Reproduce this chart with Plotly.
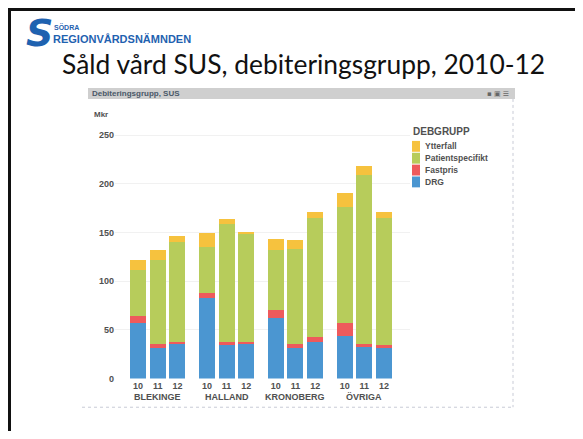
import plotly.graph_objects as go

# The page body has an 8px default margin, so the figure is sized to fit the window
SCREEN_W, SCREEN_H = 583, 439
OFF = 8
W, H = SCREEN_W - OFF, SCREEN_H - 2 * OFF

regions = ["BLEKINGE", "HALLAND", "KRONOBERG", "ÖVRIGA"]
years = ["10", "11", "12"]
series_names = ["DRG", "Fastpris", "Patientspecifikt", "Ytterfall"]
drg = [57, 31, 35, 83, 34, 35, 62, 31, 38, 44, 32, 32]
fastpris = [7, 4, 3, 5, 4, 3, 8, 5, 5, 13, 3, 2]
patientspecifikt = [48, 87, 102, 47, 121, 111, 62, 97, 122, 119, 174, 131]
ytterfall = [10, 10, 6, 15, 5, 1.5, 11, 9, 6, 15, 9, 6]
y_ticks = [0, 50, 100, 150, 200, 250]

colors = ["#4b96d1", "#ee5a5c", "#b7cc5b", "#f6c23e"]
GROUP_STEP = 3.5

xs, xlabels = [], []
for g, _ in enumerate(regions):
    for i, yr in enumerate(years):
        xs.append(g * GROUP_STEP + i)
        xlabels.append(yr)


def px(x):
    return (x - OFF) / W


def py(y):
    return 1 - (y - OFF) / H


fig = go.Figure()
for name, vals, col in zip(series_names, [drg, fastpris, patientspecifikt, ytterfall], colors):
    fig.add_trace(go.Bar(x=xs, y=vals, name=name, marker=dict(color=col, line=dict(width=0)),
                         width=0.81, showlegend=False))

FONT = "Liberation Sans"
GREY = "#505050"

fig.update_layout(
    width=W, height=H,
    margin=dict(l=0, r=0, t=0, b=0),
    paper_bgcolor="white", plot_bgcolor="white",
    barmode="stack",
    font=dict(family=FONT, size=9, color=GREY),
    xaxis=dict(domain=[px(115), px(410)], range=[-1.17, 13.82],
               tickmode="array", tickvals=xs, ticktext=["<b>%s</b>" % t for t in xlabels],
               showgrid=False, zeroline=False, showline=False, ticks="",
               tickfont=dict(size=9, color=GREY, family=FONT)),
    yaxis=dict(domain=[py(383), py(126)], range=[0, 260.86],
               tickmode="array", tickvals=y_ticks,
               ticktext=["<b>%d</b>" % t for t in y_ticks],
               showgrid=True, gridcolor="#f1f1f1", gridwidth=1,
               zeroline=False, showline=False, ticks="",
               tickfont=dict(size=9, color=GREY, family=FONT)),
    showlegend=False,
)

# group labels under the years
for g, reg in enumerate(regions):
    fig.add_annotation(x=g * GROUP_STEP + 1, y=py(402), xref="x", yref="paper",
                       text="<b>%s</b>" % reg, showarrow=False,
                       font=dict(size=9, color=GREY, family=FONT),
                       xanchor="center", yanchor="middle")

shapes = []
# slide frame (left and top black lines)
shapes.append(dict(type="line", xref="paper", yref="paper", x0=px(9.5), x1=px(9.5), y0=py(8), y1=py(439),
                   line=dict(color="#111111", width=3)))
shapes.append(dict(type="line", xref="paper", yref="paper", x0=px(8), x1=1, y0=py(9.5), y1=py(9.5),
                   line=dict(color="#111111", width=3)))
# chart panel header bar
shapes.append(dict(type="rect", xref="paper", yref="paper", x0=px(88), x1=px(515), y0=py(100), y1=py(89),
                   fillcolor="#cfcfcf", line=dict(width=0), layer="below"))
# dotted panel border (right and bottom)
shapes.append(dict(type="line", xref="paper", yref="paper", x0=px(513), x1=px(513), y0=py(100), y1=py(412),
                   line=dict(color="#c8cbd6", width=1, dash="dot")))
shapes.append(dict(type="line", xref="paper", yref="paper", x0=px(82), x1=px(513), y0=py(412), y1=py(412),
                   line=dict(color="#c8cbd6", width=1, dash="dot")))

# legend (compact, as in the reference), built from the series lists
fig.add_annotation(x=px(411), y=py(133), xref="paper", yref="paper", text="<b>DEBGRUPP</b>",
                   showarrow=False, xanchor="left", yanchor="middle",
                   font=dict(size=10, color=GREY, family=FONT))
LEG_Y0, LEG_STEP = 148, 12
for k, (name, col) in enumerate(zip(reversed(series_names), reversed(colors))):
    yc = LEG_Y0 + k * LEG_STEP
    shapes.append(dict(type="rect", xref="paper", yref="paper", x0=px(412), x1=px(420),
                       y0=py(yc + 5.5), y1=py(yc - 5.5), fillcolor=col, line=dict(width=0)))
    fig.add_annotation(x=px(423), y=py(yc), xref="paper", yref="paper", text="<b>%s</b>" % name,
                       showarrow=False, xanchor="left", yanchor="middle",
                       font=dict(size=8.5, color=GREY, family=FONT))
fig.update_layout(shapes=shapes)

# header bar text
fig.add_annotation(x=px(90), y=py(95), xref="paper", yref="paper", text="<b>Debiteringsgrupp, SUS</b>",
                   showarrow=False, xanchor="left", yanchor="middle",
                   font=dict(size=8, color="#4a5868", family=FONT))
fig.add_annotation(x=px(511), y=py(95), xref="paper", yref="paper", text="▪ ▣ ☰",
                   showarrow=False, xanchor="right", yanchor="middle",
                   font=dict(size=7, color="#666666", family="DejaVu Sans"))
# unit label
fig.add_annotation(x=px(92), y=py(116), xref="paper", yref="paper", text="<b>Mkr</b>",
                   showarrow=False, xanchor="left", yanchor="middle",
                   font=dict(size=8, color=GREY, family=FONT))
# slide title
fig.add_annotation(x=px(303.5), y=py(65), xref="paper", yref="paper",
                   text="Såld vård SUS, debiteringsgrupp, 2010-12",
                   showarrow=False, xanchor="center", yanchor="middle",
                   font=dict(size=26.4, color="#111111", family="Lato"))
# logo
fig.add_annotation(x=px(39), y=py(33), xref="paper", yref="paper", text="<b><i>S</i></b>",
                   showarrow=False, xanchor="center", yanchor="middle",
                   font=dict(size=38, color="#1f62b0", family="DejaVu Sans"))
fig.add_annotation(x=px(52), y=py(27), xref="paper", yref="paper", text="<b>SÖDRA</b>",
                   showarrow=False, xanchor="left", yanchor="middle",
                   font=dict(size=7, color="#1f62b0", family=FONT))
fig.add_annotation(x=px(51), y=py(39), xref="paper", yref="paper", text="<b>REGIONVÅRDSNÄMNDEN</b>",
                   showarrow=False, xanchor="left", yanchor="middle",
                   font=dict(size=11, color="#1f62b0", family=FONT))

fig.write_html("out.html")
